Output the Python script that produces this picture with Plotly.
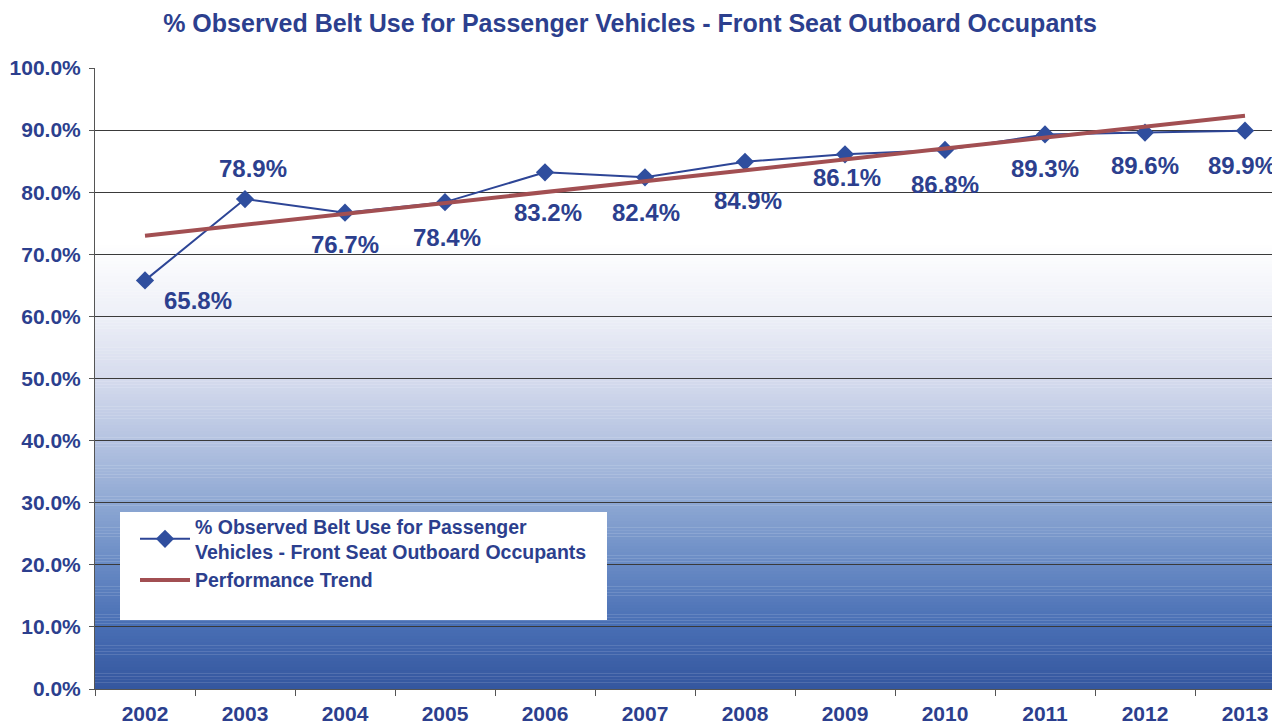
import plotly.graph_objects as go

# ---- data ----
years = ["2002", "2003", "2004", "2005", "2006", "2007",
         "2008", "2009", "2010", "2011", "2012", "2013"]
belt_use = [65.8, 78.9, 76.7, 78.4, 83.2, 82.4, 84.9, 86.1, 86.8, 89.3, 89.6, 89.9]
trend_years = ["2002", "2013"]
trend_values = [73.0, 92.3]
y_ticks = [0, 10, 20, 30, 40, 50, 60, 70, 80, 90, 100]

series_name = "% Observed Belt Use for Passenger<br>Vehicles - Front Seat Outboard Occupants"
title_text = "% Observed Belt Use for Passenger Vehicles - Front Seat Outboard Occupants"

# ---- style ----
FONT = "Liberation Sans, Arial, sans-serif"
TXT = "#2c3f8e"
LINE_BLUE = "#2d4596"
TREND = "#a24f52"

# label offsets (px) for each data label
label_dx = [53, 8, 0, 2, 3, 1, 3, 2, 0, 0, 0, -3]
label_dy = [-20, 31, -32, -35, -40, -35, -39, -23, -35, -34, -33, -35]

fig = go.Figure()

fig.add_trace(go.Scatter(
    x=years, y=belt_use, mode="lines+markers", name=series_name,
    line=dict(color=LINE_BLUE, width=2),
    marker=dict(symbol="diamond", size=14, color="#2f4e9e"),
))
fig.add_trace(go.Scatter(
    x=trend_years, y=trend_values, mode="lines", name="Performance Trend",
    line=dict(color=TREND, width=4),
))

for i, v in enumerate(belt_use):
    fig.add_annotation(
        x=i, y=v, xref="x", yref="y", text=f"{v:.1f}%", showarrow=False,
        xshift=label_dx[i], yshift=label_dy[i],
        font=dict(family=FONT, size=24, color=TXT, weight="bold"),
    )

# gradient background (decorative)
stops = [(0, (52, 86, 158)), (10, (72, 110, 180)), (20, (104, 138, 196)),
         (30, (142, 168, 211)), (40, (181, 195, 225)), (50, (213, 219, 237)),
         (60, (237, 239, 247)), (72, (255, 255, 255))]
shapes = []
N = 144
for k in range(N):
    a = 72 * k / N
    b = 72 * (k + 1) / N
    m = (a + b) / 2
    for j in range(len(stops) - 1):
        if stops[j][0] <= m <= stops[j + 1][0]:
            t = (m - stops[j][0]) / (stops[j + 1][0] - stops[j][0])
            c = [round(stops[j][1][q] + t * (stops[j + 1][1][q] - stops[j][1][q])) for q in range(3)]
            break
    shapes.append(dict(type="rect", xref="paper", yref="y", x0=0, x1=1, y0=a, y1=b + 0.05,
                       fillcolor=f"rgb({c[0]},{c[1]},{c[2]})", line=dict(width=0), layer="below"))

# page has an 8px body margin: figure coordinates = screen - 8
OFF = 8
PL, PT, PB = 95 - OFF, 68 - OFF, 689 - OFF
W, H = 1280 - OFF, 727 - OFF
PW = W - PL
PH = PB - PT

def px(xs):
    return (xs - OFF - PL) / PW

def py(ys):
    return (PB - (ys - OFF)) / PH

# white legend box
shapes.append(dict(type="rect", xref="paper", yref="paper",
                   x0=px(120), x1=px(607), y0=py(620), y1=py(512),
                   fillcolor="white", line=dict(width=0), layer="above"))

fig.update_layout(
    width=W, height=H,
    margin=dict(l=PL, r=0, t=PT, b=H - PB),
    paper_bgcolor="white", plot_bgcolor="white",
    shapes=shapes,
    title=dict(text=title_text, x=(630 - OFF) / W, xanchor="center",
               y=1 - 6.0 / H, yanchor="top",
               font=dict(family=FONT, size=25, color=TXT, weight="bold")),
    font=dict(family=FONT, color=TXT),
    showlegend=True,
    legend=dict(x=px(135), y=py(507), xanchor="left", yanchor="top",
                bgcolor="rgba(0,0,0,0)", borderwidth=0,
                font=dict(family=FONT, size=19.5, color=TXT, weight="bold"),
                itemwidth=50, tracegroupgap=4),
    xaxis=dict(type="category", range=[-0.5, 11.35], showgrid=False,
               showline=True, linecolor="#555555", linewidth=1,
               ticks="outside", ticklen=6, tickcolor="#555555", tickson="boundaries",
               ticklabelstandoff=6,
               tickfont=dict(family=FONT, size=21, color=TXT, weight="bold"),
               fixedrange=True),
    yaxis=dict(range=[0, 100], tickvals=y_ticks,
               ticktext=[f"{v:.1f}%" for v in y_ticks],
               showgrid=True, gridcolor="#3a3a3a", gridwidth=1,
               showline=True, linecolor="#555555", linewidth=1,
               ticks="outside", ticklen=5, tickcolor="#555555",
               ticklabelstandoff=4,
               tickfont=dict(family=FONT, size=21, color=TXT, weight="bold"),
               zeroline=False, fixedrange=True),
)

fig.write_html("out.html")
